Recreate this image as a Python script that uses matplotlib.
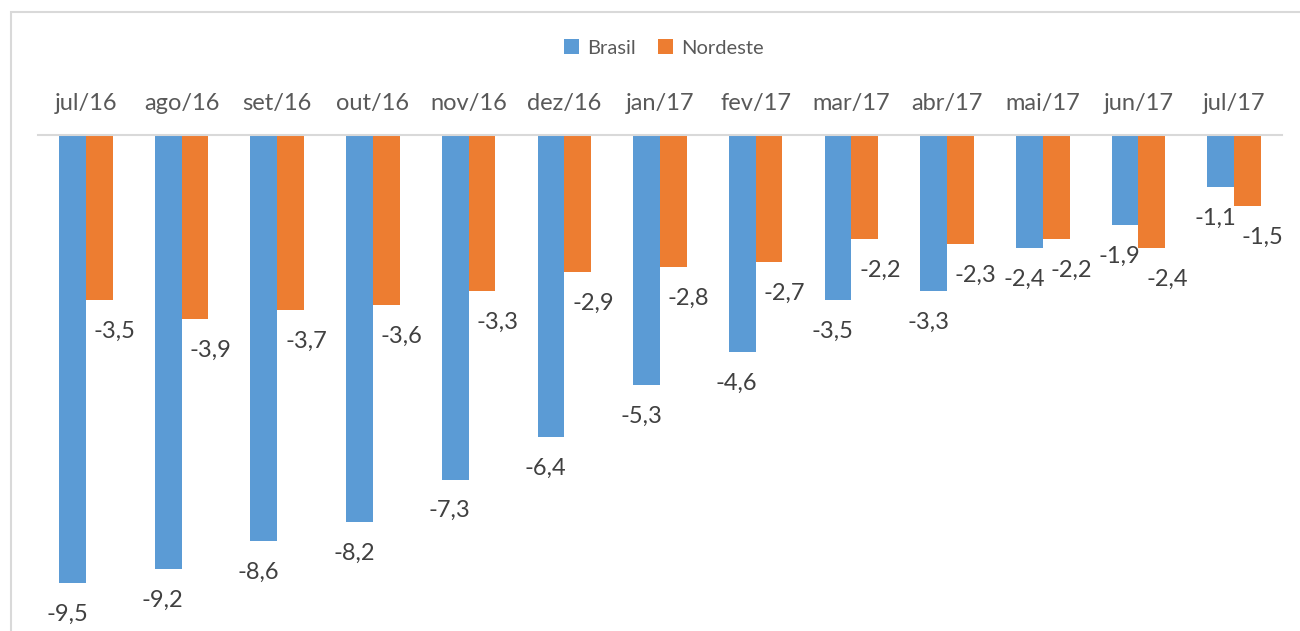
import matplotlib
matplotlib.use("Agg")
import matplotlib.pyplot as plt
from matplotlib.patches import Rectangle
import numpy as np

categories = ["jul/16", "ago/16", "set/16", "out/16", "nov/16", "dez/16", "jan/17",
              "fev/17", "mar/17", "abr/17", "mai/17", "jun/17", "jul/17"]
brasil = [-9.5, -9.2, -8.6, -8.2, -7.3, -6.4, -5.3, -4.6, -3.5, -3.3, -2.4, -1.9, -1.1]
nordeste = [-3.5, -3.9, -3.7, -3.6, -3.3, -2.9, -2.8, -2.7, -2.2, -2.3, -2.2, -2.4, -1.5]
series_names = ["Brasil", "Nordeste"]

BLUE = "#5B9BD5"
ORANGE = "#ED7D31"
GRAY_TXT = "#595959"
LABEL_TXT = "#404040"
LINE = "#D9D9D9"

plt.rcParams['font.family'] = ['Lato', 'DejaVu Sans']

W, H = 1300, 631
fig = plt.figure(figsize=(W / 100, H / 100), dpi=100)
ax = fig.add_axes([38 / W, 0, 1244 / W, 496 / H])

x = np.arange(len(categories))
bw = 0.28
b1 = ax.bar(x - bw / 2, brasil, bw, color=BLUE, label=series_names[0])
b2 = ax.bar(x + bw / 2, nordeste, bw, color=ORANGE, label=series_names[1])

ax.set_xlim(-0.5, len(categories) - 0.5)
ax.set_ylim(-10.51, 0)
ax.xaxis.tick_top()
ax.set_xticks(x)
ax.set_xticklabels(categories, fontsize=17, color=GRAY_TXT)
ax.tick_params(axis='x', length=0, pad=15)
ax.set_yticks([])
for s in ['left', 'right', 'bottom']:
    ax.spines[s].set_visible(False)
ax.spines['top'].set_color(LINE)
ax.spines['top'].set_linewidth(1.5)

def fmt(v):
    return f"{v:.1f}".replace(".", ",")

for xi, v in zip(x, brasil):
    ax.annotate(fmt(v), (xi - bw / 2, v), xytext=(-4, -15), textcoords='offset points',
                ha='center', va='top', fontsize=17, color=LABEL_TXT)
for xi, v in zip(x, nordeste):
    ax.annotate(fmt(v), (xi + bw / 2, v), xytext=(11, -15), textcoords='offset points',
                ha='center', va='top', fontsize=17, color=LABEL_TXT)

fig.legend(handles=[b1, b2], labels=series_names, loc='center',
           bbox_to_anchor=(664 / W, 1 - 48 / H), ncol=2, frameon=False,
           fontsize=14.5, handlelength=0.75, handleheight=0.75, handletextpad=0.4,
           columnspacing=1.1, labelcolor=GRAY_TXT)

fig.patches.append(Rectangle((10.5 / W, -0.05), 1.1, 1 - 12 / H + 0.05,
                             transform=fig.transFigure, fill=False,
                             edgecolor=LINE, linewidth=1.5, zorder=0))

fig.savefig("out.png", dpi=100)
